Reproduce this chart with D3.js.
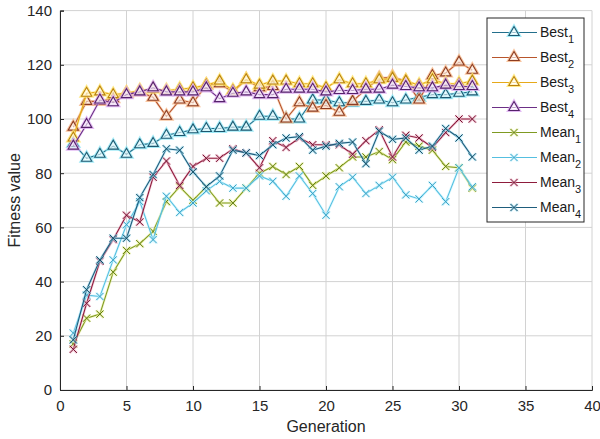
<!DOCTYPE html>
<html>
<head>
<meta charset="utf-8">
<script src="https://cdn.jsdelivr.net/npm/d3@7"></script>
<style>
  html, body { margin: 0; padding: 0; background: #fff; }
  svg { display: block; font-family: "Liberation Sans", Arial, sans-serif; }
  .tick-label { font-size: 15px; fill: #262626; }
  .axis-label { font-size: 16px; fill: #262626; }
  .legend-label { font-size: 14px; fill: #1a1a1a; }
</style>
</head>
<body>
<div id="chart"></div>
<script>
const generations = d3.range(1, 32);
const xTicks = [0, 5, 10, 15, 20, 25, 30, 35, 40];
const yTicks = [0, 20, 40, 60, 80, 100, 120, 140];

const best1 = [91, 85.5, 87, 90, 87, 90.5, 91, 94, 95, 96, 96.5, 96.5, 97, 97, 101, 101, 100, 100, 107, 107, 106, 106, 106.5, 107, 106, 107, 108, 109, 109, 109.5, 110];
const best2 = [97, 106.5, 106.5, 107.5, 109.5, 110, 108, 101, 107, 106, 112.5, 113, 110, 114.5, 111.5, 112, 100, 106, 104, 105, 102.5, 106.5, 111, 115, 115.5, 114, 107, 116, 117, 121, 118];
const best3 = [93, 109.5, 110, 109, 109.5, 110.5, 111, 110.5, 111, 111.5, 112.5, 114, 110.5, 114.5, 112.5, 114, 114, 113, 113, 111.5, 114.5, 113, 113, 114.5, 115, 114, 112.5, 114.5, 113, 113, 114];
const best4 = [90, 98, 107, 106, 109, 110, 111.5, 110, 110, 110, 111.5, 107.5, 109.5, 110, 109, 109, 111, 111, 111, 110, 110.5, 110.5, 111, 111, 112.5, 112, 111.5, 111.5, 112.5, 112, 112];
const mean1 = [17, 26.5, 28, 43.5, 51.5, 54, 58.5, 69.5, 75, 70, 75, 69, 69, 74.5, 80, 82.5, 79.5, 82.5, 75.5, 79, 82, 86, 86, 88, 85, 91.5, 90, 88.5, 82.5, 82, 74.5];
const mean2 = [21, 35, 34.5, 48, 61, 69.5, 55.5, 71.5, 65.5, 69, 73.5, 77, 74.5, 74.5, 79, 77, 71.5, 79, 72.5, 64.5, 75, 78.5, 72.5, 75.5, 78.5, 72, 70.5, 75.5, 69.5, 82, 75];
const mean3 = [15, 32, 47.5, 55.5, 64.5, 62, 78.5, 84.5, 75.5, 82.5, 85.5, 85.5, 89, 87.5, 82, 92, 89.5, 93, 90.5, 90.5, 90.5, 87, 92, 96, 86, 94, 93, 89.5, 95, 100, 100];
const mean4 = [18.5, 37, 48, 56, 56, 71, 79.5, 89, 88.5, 80.5, 75, 79, 88.5, 87.5, 86.5, 90.5, 93, 93.5, 88.5, 90, 91, 91.5, 83.5, 95.5, 92.5, 93, 88.5, 90, 96.5, 93, 86];

const seriesNames = ["Best", "Best", "Best", "Best", "Mean", "Mean", "Mean", "Mean"];
const seriesSubs = ["1", "2", "3", "4", "1", "2", "3", "4"];
const seriesValues = [best1, best2, best3, best4, mean1, mean2, mean3, mean4];
const seriesMarkers = ["tri", "tri", "tri", "tri", "x", "x", "x", "x"];
const lineColors = ["#236f8c", "#b8552c", "#e6a91a", "#6c2f86", "#7f9a22", "#55bfe0", "#8e1c3c", "#1f5d7c"];
const haloColors = ["#8fe6f5", "#f6b688", "#ffe36a", "#dcaaf0", "#e6ee8a", "#b8f2ff", "#f0a8c0", "#90d8f0"];
const markerColors = ["#1e5870", "#8c3c22", "#b9800e", "#55226b", "#5f7a14", "#3aa0c4", "#701430", "#16465e"];

const width = 600;
const height = 439;
const margin = { top: 10.6, right: 8, bottom: 49, left: 60 };

const svg = d3.select("#chart").append("svg").attr("width", width).attr("height", height);

const x = d3.scaleLinear().domain([0, 40]).range([margin.left, width - margin.right]);
const y = d3.scaleLinear().domain([0, 140]).range([height - margin.bottom, margin.top]);

// grid
const grid = svg.append("g");
grid.selectAll("line.vx")
  .data(xTicks)
  .join("line")
  .attr("x1", (d) => x(d)).attr("x2", (d) => x(d))
  .attr("y1", y(0)).attr("y2", y(140))
  .attr("stroke", "#d2d2d2").attr("stroke-width", 1);
grid.selectAll("line.hy")
  .data(yTicks)
  .join("line")
  .attr("x1", x(0)).attr("x2", x(40))
  .attr("y1", (d) => y(d)).attr("y2", (d) => y(d))
  .attr("stroke", "#d2d2d2").attr("stroke-width", 1);

// axes (ticks pointing inward)
svg.append("g")
  .attr("transform", `translate(0, ${y(0)})`)
  .call(d3.axisBottom(x).tickValues(xTicks).tickSize(-4).tickPadding(10))
  .call((g) => g.select(".domain").attr("stroke", "#262626"))
  .call((g) => g.selectAll(".tick line").attr("stroke", "#262626"))
  .call((g) => g.selectAll("text").attr("class", "tick-label").attr("font-family", null).attr("font-size", null));

svg.append("g")
  .attr("transform", `translate(${x(0)}, 0)`)
  .call(d3.axisLeft(y).tickValues(yTicks).tickSize(-4).tickPadding(8))
  .call((g) => g.select(".domain").attr("stroke", "#262626"))
  .call((g) => g.selectAll(".tick line").attr("stroke", "#262626"))
  .call((g) => g.selectAll("text").attr("class", "tick-label").attr("font-family", null).attr("font-size", null));

svg.append("text")
  .attr("class", "axis-label")
  .attr("x", (x(0) + x(40)) / 2)
  .attr("y", 432)
  .attr("text-anchor", "middle")
  .text("Generation");

svg.append("text")
  .attr("class", "axis-label")
  .attr("transform", `translate(20, ${(y(0) + y(140)) / 2}) rotate(-90)`)
  .attr("text-anchor", "middle")
  .text("Fitness value");

const triangle = d3.symbol(d3.symbolTriangle, 46);
const cross = d3.symbol(d3.symbolTimes, 36);

function drawMarker(sel, kind, i) {
  if (kind === "tri") {
    sel.append("path").attr("d", triangle()).attr("fill", "none")
      .attr("stroke", haloColors[i]).attr("stroke-width", 3.2).attr("stroke-opacity", 0.8);
    sel.append("path").attr("d", triangle()).attr("fill", "#fff").attr("fill-opacity", 0.55)
      .attr("stroke", markerColors[i]).attr("stroke-width", 1.1);
  } else {
    sel.append("path").attr("d", cross()).attr("fill", "none")
      .attr("stroke", haloColors[i]).attr("stroke-width", 2.6).attr("stroke-opacity", 0.6);
    sel.append("path").attr("d", cross()).attr("fill", "none")
      .attr("stroke", markerColors[i]).attr("stroke-width", 1);
  }
}

const line = d3.line().x((d) => x(d[0])).y((d) => y(d[1]));

const plot = svg.append("g");
seriesValues.forEach((values, i) => {
  const pts = generations.map((g, k) => [g, values[k]]);
  const group = plot.append("g");
  group.append("path")
    .attr("d", line(pts))
    .attr("fill", "none")
    .attr("stroke", haloColors[i])
    .attr("stroke-opacity", 0.45)
    .attr("stroke-width", 2.6);
  group.append("path")
    .attr("d", line(pts))
    .attr("fill", "none")
    .attr("stroke", lineColors[i])
    .attr("stroke-width", 1.1);
  group.selectAll("g.m")
    .data(pts)
    .join("g")
    .attr("transform", (d) => `translate(${x(d[0])}, ${y(d[1])})`)
    .each(function () { drawMarker(d3.select(this), seriesMarkers[i], i); });
});

// legend
const legend = svg.append("g").attr("transform", "translate(487, 18)");
legend.append("rect")
  .attr("x", 0).attr("y", 0).attr("width", 97).attr("height", 204)
  .attr("fill", "#fff").attr("stroke", "#262626").attr("stroke-width", 1);

seriesNames.forEach((name, i) => {
  const rowY = 14.5 + i * 25;
  const row = legend.append("g").attr("transform", `translate(0, ${rowY})`);
  row.append("line").attr("x1", 5).attr("x2", 50).attr("y1", 0).attr("y2", 0)
    .attr("stroke", lineColors[i]).attr("stroke-width", 1.1);
  const m = row.append("g").attr("transform", "translate(27, 0)");
  drawMarker(m, seriesMarkers[i], i);
  const label = row.append("text").attr("class", "legend-label").attr("x", 53).attr("y", 4);
  label.append("tspan").text(name);
  label.append("tspan").attr("dy", 6).attr("font-size", 11).text(seriesSubs[i]);
});
</script>
</body>
</html>
